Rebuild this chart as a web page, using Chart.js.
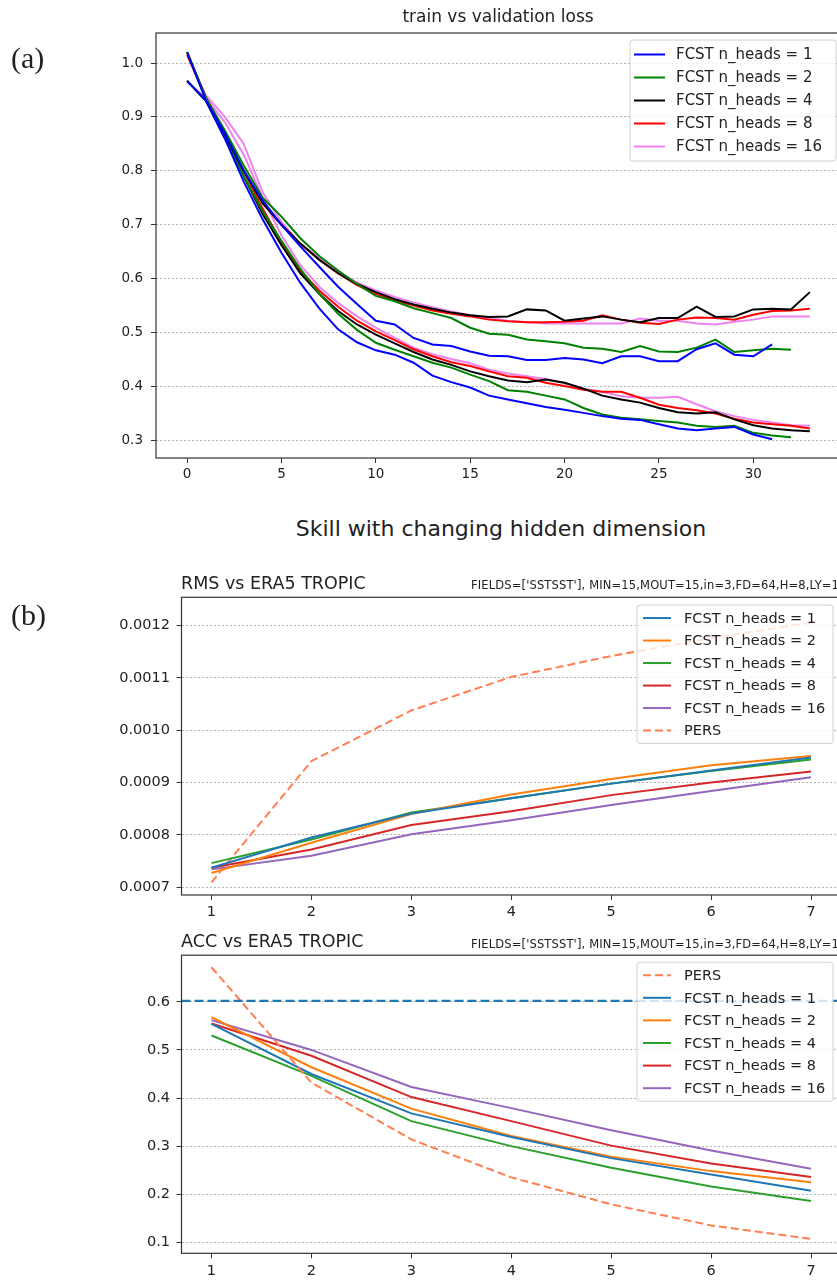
<!DOCTYPE html>
<html>
<head>
<meta charset="utf-8">
<script src="https://cdn.jsdelivr.net/npm/chart.js@4.4.1/dist/chart.umd.min.js"></script>
<style>
  html, body { margin: 0; padding: 0; background: #fff; overflow: hidden; }
  body { width: 837px; height: 1280px; position: relative; font-family: 'DejaVu Sans', sans-serif; color: #222; }
  canvas { position: absolute; left: 0; }
  .txt { position: absolute; white-space: nowrap; line-height: 1; z-index: 2; }
  .panel { font-family: 'Liberation Serif', serif; font-size: 30px; }
  .fields { font-size: 11.5px; letter-spacing: 0.15px; }
</style>
</head>
<body>
<div class="txt panel" style="left:11px; top:43px;">(a)</div>
<div class="txt panel" style="left:11px; top:600px;">(b)</div>
<div class="txt" style="left:0; width:996px; text-align:center; top:8px; font-size:17px;">train vs validation loss</div>
<div class="txt" style="left:0; width:1002px; text-align:center; top:518px; font-size:22px;">Skill with changing hidden dimension</div>
<div class="txt" style="left:181px; top:575px; font-size:17.5px;">RMS vs ERA5 TROPIC</div>
<div class="txt fields" style="left:471px; top:580px;">FIELDS=['SSTSST'], MIN=15,MOUT=15,in=3,FD=64,H=8,LY=1</div>
<div class="txt" style="left:181px; top:933px; font-size:17.5px;">ACC vs ERA5 TROPIC</div>
<div class="txt fields" style="left:471px; top:939px;">FIELDS=['SSTSST'], MIN=15,MOUT=15,in=3,FD=64,H=8,LY=1</div>

<canvas id="lossChart" width="845" height="490" style="top:0px;"></canvas>
<canvas id="rmsChart" width="845" height="350" style="top:570px;"></canvas>
<canvas id="accChart" width="845" height="340" style="top:940px;"></canvas>

<script>
// ---- (a) train vs validation loss ----
const epochs = [0,1,2,3,4,5,6,7,8,9,10,11,12,13,14,15,16,17,18,19,20,21,22,23,24,25,26,27,28,29,30,31,32,33];
const lossXTicks = [0, 5, 10, 15, 20, 25, 30];
const lossYTicks = [0.3, 0.4, 0.5, 0.6, 0.7, 0.8, 0.9, 1.0];

const trainH1 = [0.967,0.93,0.86,0.78,0.71,0.648,0.592,0.545,0.506,0.482,0.467,0.459,0.444,0.42,0.408,0.398,0.383,0.376,0.369,0.362,0.357,0.351,0.345,0.34,0.338,0.33,0.322,0.319,0.322,0.325,0.311,0.302];
const valH1 = [1.02,0.93,0.87,0.80,0.745,0.70,0.66,0.622,0.585,0.553,0.522,0.515,0.49,0.478,0.475,0.465,0.457,0.456,0.449,0.449,0.453,0.45,0.443,0.456,0.456,0.447,0.447,0.469,0.48,0.459,0.456,0.478];
const trainH2 = [0.967,0.93,0.86,0.79,0.725,0.67,0.618,0.572,0.535,0.505,0.481,0.468,0.456,0.444,0.435,0.422,0.41,0.393,0.39,0.383,0.376,0.36,0.348,0.342,0.339,0.336,0.333,0.327,0.325,0.327,0.314,0.309,0.306];
const valH2 = [1.02,0.935,0.875,0.81,0.75,0.715,0.675,0.642,0.615,0.59,0.568,0.558,0.545,0.536,0.527,0.509,0.498,0.496,0.487,0.484,0.48,0.472,0.47,0.464,0.475,0.465,0.464,0.472,0.487,0.464,0.467,0.47,0.468];
const trainH4 = [0.967,0.93,0.865,0.79,0.72,0.662,0.61,0.572,0.54,0.515,0.496,0.48,0.464,0.45,0.44,0.428,0.419,0.411,0.408,0.413,0.407,0.396,0.383,0.376,0.37,0.36,0.352,0.35,0.352,0.339,0.328,0.322,0.319,0.317];
const valH4 = [1.02,0.935,0.87,0.80,0.74,0.70,0.665,0.635,0.61,0.59,0.575,0.562,0.552,0.544,0.537,0.532,0.529,0.53,0.543,0.541,0.522,0.526,0.53,0.524,0.519,0.527,0.527,0.548,0.529,0.53,0.543,0.544,0.543,0.575];
const trainH8 = [0.967,0.93,0.865,0.80,0.73,0.668,0.615,0.578,0.548,0.522,0.502,0.486,0.469,0.456,0.445,0.438,0.428,0.419,0.416,0.407,0.401,0.394,0.39,0.39,0.379,0.366,0.36,0.356,0.35,0.34,0.333,0.33,0.327,0.322];
const valH8 = [1.015,0.935,0.87,0.80,0.74,0.70,0.665,0.635,0.61,0.588,0.572,0.56,0.55,0.541,0.535,0.53,0.524,0.521,0.519,0.519,0.52,0.522,0.532,0.524,0.518,0.516,0.524,0.528,0.527,0.524,0.533,0.54,0.541,0.544];
const trainH16 = [0.965,0.935,0.89,0.83,0.75,0.68,0.625,0.585,0.555,0.53,0.509,0.49,0.472,0.46,0.451,0.443,0.431,0.424,0.419,0.414,0.406,0.396,0.39,0.382,0.379,0.379,0.381,0.367,0.354,0.345,0.338,0.333,0.328,0.327];
const valH16 = [1.015,0.94,0.90,0.85,0.76,0.705,0.665,0.638,0.612,0.593,0.578,0.566,0.556,0.547,0.539,0.532,0.527,0.522,0.519,0.517,0.517,0.517,0.517,0.517,0.526,0.522,0.522,0.517,0.515,0.52,0.524,0.53,0.53,0.53];

// ---- (b) skill vs lead time ----
const leadTimes = [1, 2, 3, 4, 5, 6, 7];
const rmsYTicks = [0.0007, 0.0008, 0.0009, 0.0010, 0.0011, 0.0012];
const accYTicks = [0.1, 0.2, 0.3, 0.4, 0.5, 0.6];
const headLabels = ['FCST n_heads = 1', 'FCST n_heads = 2', 'FCST n_heads = 4', 'FCST n_heads = 8', 'FCST n_heads = 16'];

const rmsH1 = [0.000737, 0.000795, 0.000841, 0.000870, 0.000898, 0.000923, 0.000948];
const rmsH2 = [0.000727, 0.000785, 0.000840, 0.000877, 0.000907, 0.000933, 0.000951];
const rmsH4 = [0.000746, 0.000791, 0.000843, 0.000870, 0.000898, 0.000922, 0.000944];
const rmsH8 = [0.000737, 0.000772, 0.000819, 0.000845, 0.000876, 0.000900, 0.000921];
const rmsH16 = [0.000734, 0.000760, 0.000801, 0.000828, 0.000857, 0.000884, 0.000910];
const rmsPers = [0.000709, 0.000941, 0.001038, 0.001102, 0.001142, 0.001176, 0.001206];

const accH1 = [0.554, 0.450, 0.368, 0.319, 0.275, 0.241, 0.207];
const accH2 = [0.568, 0.464, 0.378, 0.321, 0.278, 0.248, 0.225];
const accH4 = [0.530, 0.446, 0.352, 0.300, 0.255, 0.216, 0.186];
const accH8 = [0.555, 0.488, 0.402, 0.352, 0.301, 0.264, 0.236];
const accH16 = [0.562, 0.500, 0.423, 0.379, 0.333, 0.291, 0.253];
const accPers = [0.672, 0.432, 0.314, 0.235, 0.179, 0.135, 0.107];
const accRefLine = 0.602;

const pts = (xs, ys) => ys.map((v, i) => ({ x: xs[i], y: v }));

function line(label, color, xs, ys, extra) {
  return Object.assign({
    label: label, data: pts(xs, ys), borderColor: color, backgroundColor: color,
    borderWidth: 2, pointRadius: 0, tension: 0, fill: false
  }, extra || {});
}

// frame round the plot area (matplotlib spines)
const frame = {
  id: 'frame',
  afterDraw(chart) {
    const { ctx, chartArea: a } = chart;
    ctx.save();
    ctx.strokeStyle = '#333';
    ctx.lineWidth = 1.2;
    ctx.strokeRect(a.left, a.top, a.right - a.left, a.bottom - a.top);
    ctx.restore();
  }
};

// legend box inside the plot, upper right
const boxLegend = {
  id: 'boxLegend',
  afterDraw(chart, args, o) {
    const { ctx, chartArea: a } = chart;
    const items = chart.data.datasets.filter(d => d.label);
    const right = a.right - o.inset, top = a.top + o.top;
    const left = right - o.width, h = o.pad * 2 + items.length * o.row;
    ctx.save();
    ctx.beginPath();
    ctx.roundRect(left, top, o.width, h, 3);
    ctx.fillStyle = 'rgba(255,255,255,0.8)';
    ctx.fill();
    ctx.strokeStyle = '#d0d0d0';
    ctx.lineWidth = 1;
    ctx.stroke();
    ctx.font = o.font;
    ctx.textBaseline = 'middle';
    items.forEach((d, i) => {
      const y = top + o.pad + o.row * (i + 0.5);
      ctx.beginPath();
      ctx.setLineDash(d.borderDash || []);
      ctx.strokeStyle = d.borderColor;
      ctx.lineWidth = d.borderWidth;
      ctx.moveTo(left + o.sx1, y);
      ctx.lineTo(left + o.sx2, y);
      ctx.stroke();
      ctx.setLineDash([]);
      ctx.fillStyle = '#222';
      ctx.fillText(d.label, left + o.tx, y + 1);
    });
    ctx.restore();
  }
};

function axes(o) {
  return {
    x: {
      type: 'linear', min: o.xMin, max: o.xMax,
      afterBuildTicks: s => { s.ticks = o.xTicks.map(v => ({ value: v })); },
      afterFit: s => { s.height = o.xHeight; },
      border: { display: false },
      grid: { drawOnChartArea: false, drawTicks: true, tickLength: 5, tickColor: '#333', tickWidth: 1 },
      ticks: { color: '#222', padding: o.xPad, maxRotation: 0, font: { family: 'DejaVu Sans', size: o.fontSize },
        callback: v => String(v) }
    },
    y: {
      type: 'linear', min: o.yMin, max: o.yMax,
      afterBuildTicks: s => { s.ticks = o.yTicks.map(v => ({ value: v })); },
      afterFit: s => { s.width = o.yWidth; },
      border: { display: false, dash: [2, 2] },
      grid: { color: '#a0a0a0', lineWidth: 0.8, drawTicks: true, tickLength: 5, tickColor: '#333', tickWidth: 1, tickBorderDash: [] },
      ticks: { color: '#222', padding: o.yPad, font: { family: 'DejaVu Sans', size: o.fontSize },
        callback: v => v.toFixed(o.digits) }
    }
  };
}

function baseOptions(o, legendOpts, pad) {
  return {
    responsive: false, animation: false, devicePixelRatio: 1,
    layout: { padding: pad },
    plugins: { legend: { display: false }, tooltip: { enabled: false }, boxLegend: legendOpts },
    scales: axes(o)
  };
}

// (a)
const lossSets = [
  line('FCST n_heads = 1', '#0000ff', epochs, valH1),
  line(null, '#0000ff', epochs, trainH1),
  line('FCST n_heads = 2', '#008000', epochs, valH2),
  line(null, '#008000', epochs, trainH2),
  line('FCST n_heads = 4', '#000000', epochs, valH4),
  line(null, '#000000', epochs, trainH4),
  line('FCST n_heads = 8', '#ff0000', epochs, valH8),
  line(null, '#ff0000', epochs, trainH8),
  line('FCST n_heads = 16', '#ee82ee', epochs, valH16),
  line(null, '#ee82ee', epochs, trainH16)
];
new Chart(document.getElementById('lossChart'), {
  type: 'line',
  data: { datasets: lossSets },
  plugins: [frame, boxLegend],
  options: baseOptions(
    { xMin: -1.65, xMax: 34.65, xTicks: lossXTicks, yMin: 0.2673, yMax: 1.0557, yTicks: lossYTicks,
      xHeight: 32, yWidth: 156, xPad: 3, yPad: 8, fontSize: 13.5, digits: 1 },
    { inset: 5, top: 7, width: 206, row: 23, pad: 3, sx1: 4, sx2: 35, tx: 46, font: '15px "DejaVu Sans"' },
    { top: 33, right: 4, left: 0, bottom: 0 })
});

// (b) RMS
const tab = ['#1f77b4', '#ff7f0e', '#2ca02c', '#d62728', '#9467bd'];
const persColor = '#ff7f50';
new Chart(document.getElementById('rmsChart'), {
  type: 'line',
  data: { datasets: [
    line(headLabels[0], tab[0], leadTimes, rmsH1),
    line(headLabels[1], tab[1], leadTimes, rmsH2),
    line(headLabels[2], tab[2], leadTimes, rmsH4),
    line(headLabels[3], tab[3], leadTimes, rmsH8),
    line(headLabels[4], tab[4], leadTimes, rmsH16),
    line('PERS', persColor, leadTimes, rmsPers, { borderDash: [8, 4] })
  ] },
  plugins: [frame, boxLegend],
  options: baseOptions(
    { xMin: 0.7, xMax: 7.3, xTicks: leadTimes, yMin: 0.000685, yMax: 0.0012543, yTicks: rmsYTicks,
      xHeight: 25, yWidth: 181.5, xPad: 4, yPad: 6.5, fontSize: 14.5, digits: 4 },
    { inset: 8, top: 7.7, width: 196, row: 22.5, pad: 1.8, sx1: 6, sx2: 34, tx: 47, font: '14.5px "DejaVu Sans"' },
    { top: 27.3, right: 4, left: 0, bottom: 0 })
});

// (b) ACC
const accX = [0.7, 7.3];
new Chart(document.getElementById('accChart'), {
  type: 'line',
  data: { datasets: [
    line(null, tab[0], accX, [accRefLine, accRefLine], { borderDash: [9, 4], borderWidth: 2.4 }),
    line('PERS', persColor, leadTimes, accPers, { borderDash: [8, 4] }),
    line(headLabels[0], tab[0], leadTimes, accH1),
    line(headLabels[1], tab[1], leadTimes, accH2),
    line(headLabels[2], tab[2], leadTimes, accH4),
    line(headLabels[3], tab[3], leadTimes, accH8),
    line(headLabels[4], tab[4], leadTimes, accH16)
  ] },
  plugins: [frame, boxLegend],
  options: baseOptions(
    { xMin: 0.7, xMax: 7.3, xTicks: leadTimes, yMin: 0.0771, yMax: 0.697, yTicks: accYTicks,
      xHeight: 26.7, yWidth: 181.5, xPad: 4, yPad: 6.5, fontSize: 14.5, digits: 1 },
    { inset: 8, top: 7, width: 196, row: 22.6, pad: 1.7, sx1: 6, sx2: 34, tx: 47, font: '14.5px "DejaVu Sans"' },
    { top: 15, right: 4, left: 0, bottom: 0 })
});
</script>
</body>
</html>
